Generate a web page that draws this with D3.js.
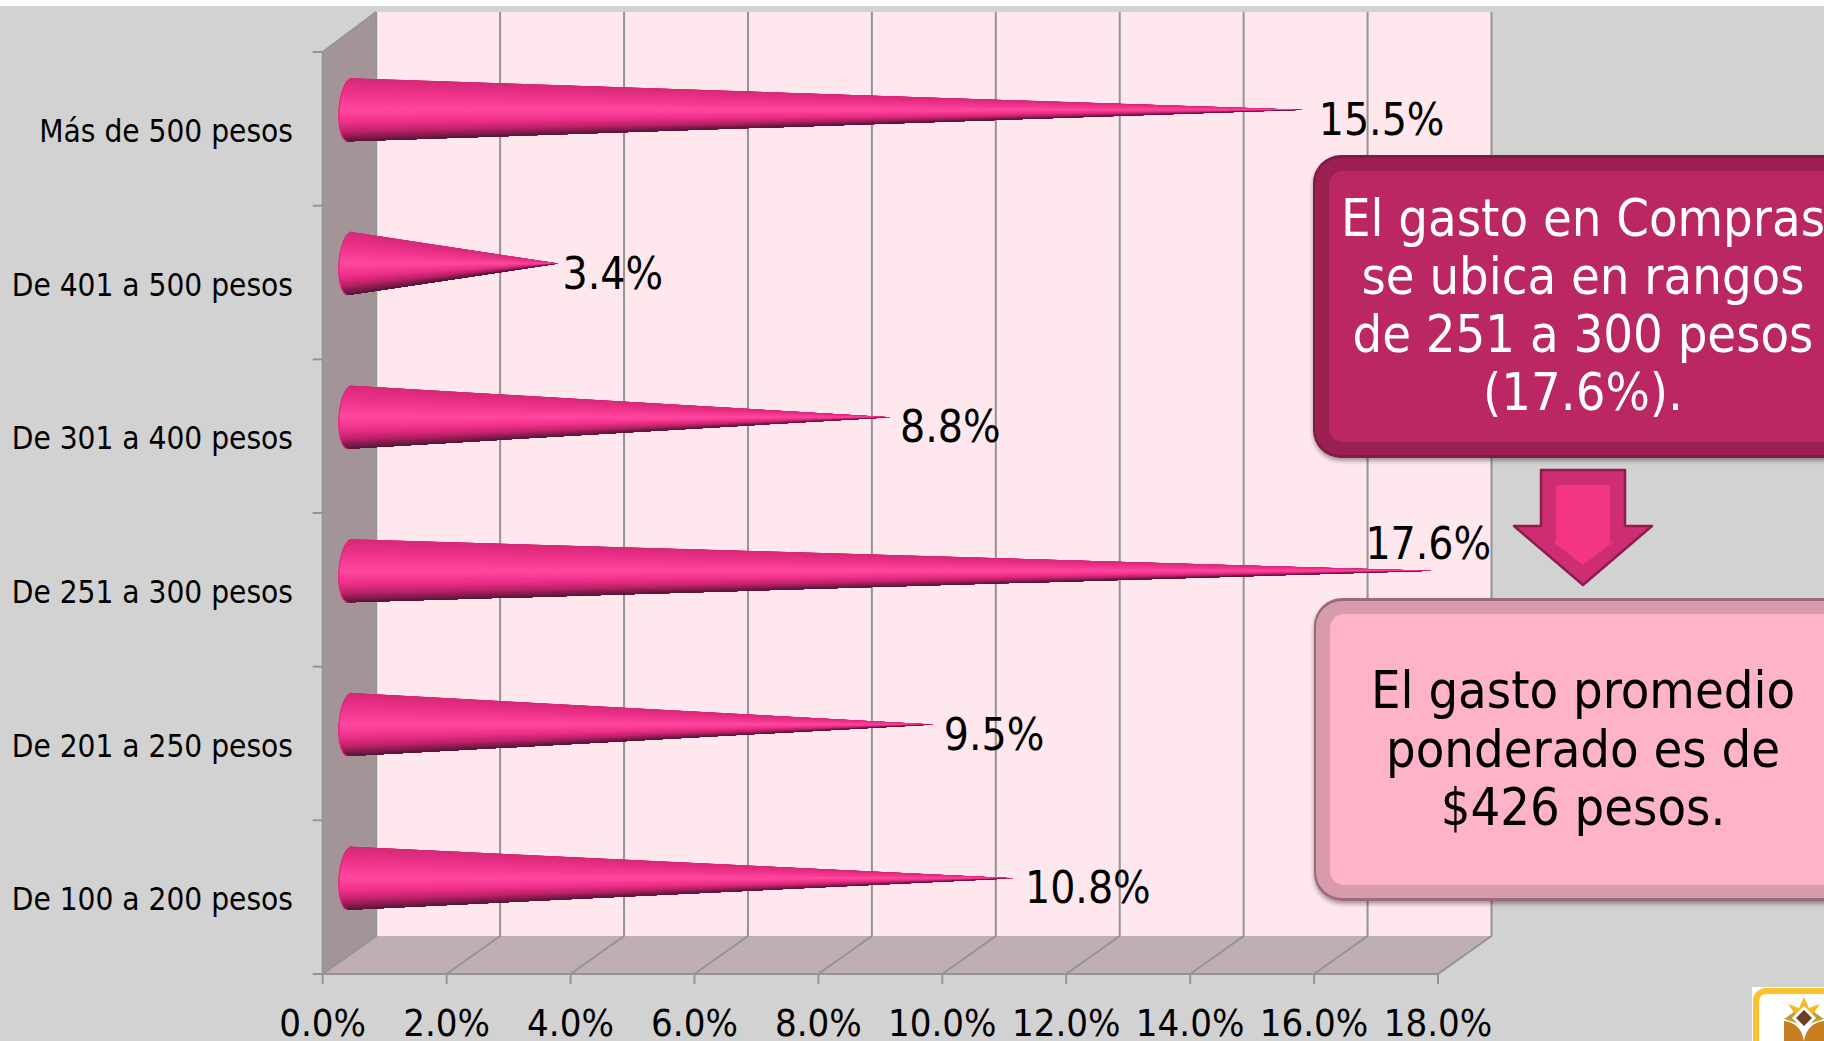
<!DOCTYPE html>
<html><head><meta charset="utf-8">
<script src="https://cdn.jsdelivr.net/npm/d3@7/dist/d3.min.js"></script>
<style>html,body{margin:0;padding:0;background:#d2d2d2;overflow:hidden}svg{display:block}
text{font-family:"DejaVu Sans Condensed","DejaVu Sans",sans-serif}</style></head><body>
<script>
const categories=["Más de 500 pesos","De 401 a 500 pesos","De 301 a 400 pesos","De 251 a 300 pesos","De 201 a 250 pesos","De 100 a 200 pesos"];
const values=[15.5,3.4,8.8,17.6,9.5,10.8];
const xTicks=[0,2,4,6,8,10,12,14,16,18];
const box1Lines=["El gasto en Compras","se ubica en rangos","de 251 a 300 pesos","(17.6%)."];
const box2Lines=["El gasto promedio","ponderado es de","$426 pesos."];

const W=1824,H=1041;
const svg=d3.select("body").append("svg").attr("width",W).attr("height",H);
const defs=svg.append("defs");
svg.append("rect").attr("width",W).attr("height",H).attr("fill","#d2d2d2");
svg.append("rect").attr("width",W).attr("height",6).attr("fill","#fff");

const x=d3.scaleLinear().domain([0,18]).range([322.7,1438]);
const y=d3.scaleBand().domain(categories).range([52,974]);
const dx=53.5,dyTop=40,dyBot=38;
const coneX=d3.scaleLinear().domain([0,18]).range([349,1456]);
const labelX=d3.scaleLinear().domain([0,18]).range([350,1475]);
const line="#949494";

// walls
svg.append("rect").attr("x",x(0)+dx).attr("y",52-dyTop).attr("width",x(18)-x(0)).attr("height",974-dyBot-12).attr("fill","#fee7ed");
svg.append("path").attr("d",`M${x(0)},52L${x(0)+dx},12V936L${x(0)},974Z`).attr("fill","#a39497");
svg.append("path").attr("d",`M${x(0)},974L${x(0)+dx},936H${x(18)+dx}L${x(18)},974Z`).attr("fill","#bfafb2");
// gridlines
xTicks.forEach(t=>{
  svg.append("path").attr("fill","none").attr("stroke",line).attr("stroke-width",2)
    .attr("d",`M${x(t)},984V974L${x(t)+dx},936V12`);
});
svg.append("path").attr("fill","none").attr("stroke",line).attr("stroke-width",2)
  .attr("d",`M${x(0)+dx},12L${x(0)},52V974H${x(18)}`);
// y ticks
const yTickVals=d3.range(categories.length+1).map(i=>52+i*y.step());
svg.selectAll(".yt").data(yTickVals).join("line").attr("x1",x(0)-10).attr("x2",x(0)).attr("y1",d=>d).attr("y2",d=>d).attr("stroke",line).attr("stroke-width",2);

// x axis labels
svg.selectAll(".xl").data(xTicks).join("text").attr("x",d=>x(d)).attr("y",1036).attr("text-anchor","middle")
  .attr("font-size",38).attr("fill","#000").text(d=>d.toFixed(1)+"%");
// category labels
svg.selectAll(".cl").data(categories).join("text").attr("x",293).attr("y",d=>y(d)+y.bandwidth()/2+13)
  .attr("text-anchor","end").attr("font-size",31.3).attr("fill","#000").text(d=>d);

// cones: painted from the top edge downward so neighbouring strips overlap without seams
const shade=d3.scaleLinear().domain([0,0.25,0.5,0.7,0.85,0.95,1]).range(["#d62a78","#f0348c","#ff48a0","#ee3088","#bd2268","#7c1b4c","#5a1838"]);
const R=31.5,rx=11,N=90;
categories.forEach((c,i)=>{
  const cy=y(c)+y.bandwidth()/2-19, tip=coneX(values[i]), bx=350;
  const g=svg.append("g");
  const P=a=>[bx-rx*Math.cos(a)-2*Math.sin(a),cy+R*Math.sin(a)];
  const ang=k=>-Math.PI/2+Math.PI*k/N;
  for(let k=0;k<N;k++){
    const pts=d3.range(k,N+1).map(j=>P(ang(j)));
    g.append("path").attr("d",`M${tip},${cy}L${pts.join("L")}Z`).attr("fill",shade((Math.sin(ang(k+.5))+1)/2));
  }
  const rim=d3.range(0,N+1).map(k=>P(ang(k)));
  g.append("path").attr("d",d3.line()(rim)).attr("fill","none").attr("stroke","#e0277f").attr("stroke-width",1.2);
});
// value labels; the longest bar's label sits above its tip, as in the reference
const maxV=d3.max(values);
svg.selectAll(".vl").data(values).join("text")
  .attr("x",d=>d===maxV?coneX(d)-66:labelX(d))
  .attr("y",(d,i)=>y(categories[i])+y.bandwidth()/2-19+(d===maxV?-12:25))
  .attr("font-size",44).attr("fill","#000").text(d=>d.toFixed(1)+"%");

// callouts
function box(x0,y0,y1,outer,mid,inner){
  const f=defs.append("filter").attr("id","s"+y0).attr("x","-5%").attr("y","-5%").attr("width","110%").attr("height","115%");
  f.append("feDropShadow").attr("dx",0).attr("dy",3).attr("stdDeviation",2).attr("flood-color","#000").attr("flood-opacity",0.35);
  svg.append("rect").attr("x",x0).attr("y",y0).attr("width",600).attr("height",y1-y0).attr("rx",28).attr("fill",outer).attr("filter",`url(#s${y0})`);
  svg.append("rect").attr("x",x0+2).attr("y",y0+3).attr("width",600).attr("height",y1-y0-6).attr("rx",26).attr("fill",mid);
  svg.append("rect").attr("x",x0+16).attr("y",y0+16).attr("width",600).attr("height",y1-y0-32).attr("rx",14).attr("fill",inner);
}
box(1313,155,458,"#7d1a45","#9c1f52","#bb2763");
box(1314,598,901,"#9c6b7c","#d89bac","#ffb3c8");
const cx=1583;
svg.selectAll(".b1").data(box1Lines).join("text").attr("x",cx).attr("y",(d,i)=>236+i*58).attr("text-anchor","middle")
  .attr("font-size",52).attr("fill","#fff").text(d=>d);
svg.selectAll(".b2").data(box2Lines).join("text").attr("x",cx).attr("y",(d,i)=>708+i*58.5).attr("text-anchor","middle")
  .attr("font-size",52).attr("fill","#000").text(d=>d);

// arrow
svg.append("path").attr("d","M1541,470H1625V526H1652L1583,585L1514,526H1541Z").attr("fill","#cf2d73").attr("stroke","#8e1c4e").attr("stroke-width",2.5).attr("stroke-linejoin","round");
svg.append("path").attr("d","M1556,485H1610V542H1613L1583,565L1553,542H1556Z").attr("fill","#f33585");

// logo
svg.append("rect").attr("x",1752).attr("y",987).attr("width",80).attr("height",60).attr("fill","#fff");
svg.append("rect").attr("x",1756).attr("y",991).attr("width",90).attr("height",70).attr("rx",10).attr("fill","#fff").attr("stroke","#fcc12c").attr("stroke-width",6);
svg.append("path").attr("d","M1804,997L1809,1008L1820,1004L1813,1014H1795L1788,1004L1799,1008Z").attr("fill","#f5b91f");
svg.append("path").attr("d","M1784,1019L1794,1012L1804,1024L1814,1012L1824,1019L1806,1025H1802Z").attr("fill","#b9a030");
svg.append("path").attr("d","M1784,1021C1794,1022 1802,1028 1804,1041C1806,1028 1814,1022 1824,1021L1824,1041H1784Z").attr("fill","#c77f22");
svg.append("path").attr("d","M1804,1006L1816,1018L1804,1030L1792,1018Z").attr("fill","#fff");
svg.append("path").attr("d","M1804,1010L1812,1018L1804,1026L1796,1018Z").attr("fill","#6b4020");
</script></body></html>
